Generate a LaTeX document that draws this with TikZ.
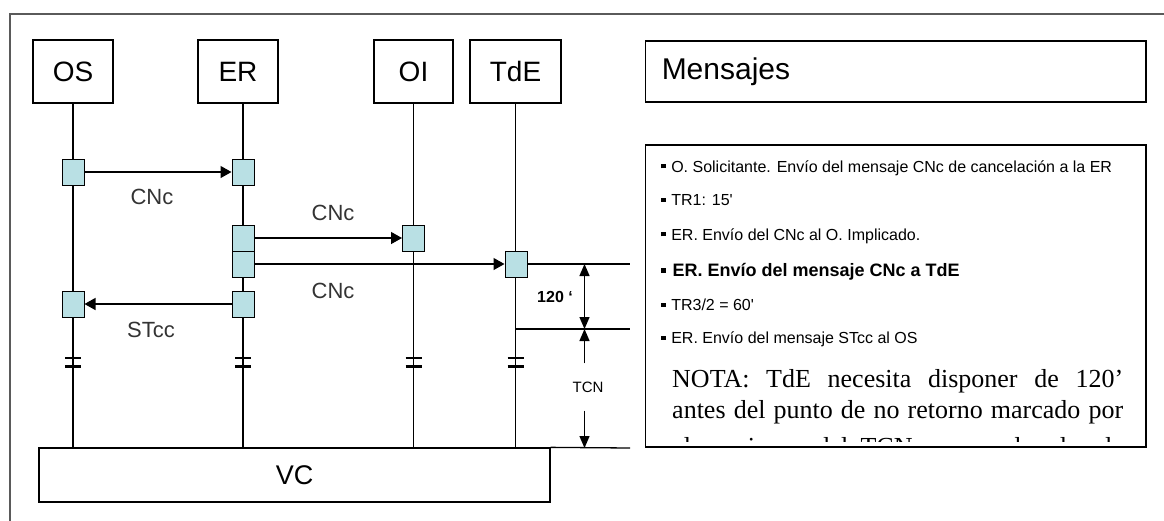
\documentclass[tikz,border=0pt]{standalone}
\usepackage{fontspec}
\setmainfont{Liberation Sans}
\newfontfamily\timesf{Liberation Serif}
\usetikzlibrary{arrows.meta}
\definecolor{sqfill}{RGB}{185,224,228}
\definecolor{frame}{RGB}{90,90,90}
\newcommand{\bul}{\rule[0.22em]{0.28em}{0.28em}\hspace{0.35em}}
\tikzset{dtip/.tip={Triangle[length=12pt,width=10pt]}}
\begin{document}
\begin{tikzpicture}[x=1pt,y=-1pt,
  box/.style={draw=black, line width=1.3pt, inner sep=0pt, font=\fontsize{28}{32}\selectfont},
  sqr/.style={draw=black, fill=sqfill, line width=1pt, minimum width=22pt, minimum height=26pt, inner sep=0pt},
  life/.style={line width=1.3pt},
  msg/.style={line width=1.3pt, -{Triangle[length=11pt,width=12pt]}},
  brk/.style={line width=2.4pt},
  dim/.style={line width=1.3pt},
  lab/.style={font=\fontsize{22}{26}\selectfont, text=black!80, inner sep=0pt},
  item/.style={anchor=base west, inner sep=0pt, font=\fontsize{16}{19}\selectfont},
  nota/.style={anchor=base west, inner sep=0pt, font=\timesf\fontsize{26}{31}\selectfont}
]
\useasboundingbox (0,0) rectangle (1164,520);
\begin{scope}
\clip (0,0) rectangle (1164,520);
\draw[frame, line width=1.4pt] (1170,14) -- (10,14) -- (10,530);
\end{scope}

% participant boxes
\node[box, minimum width=80pt, minimum height=63pt] (os) at (73,71.5) {OS};
\node[box, minimum width=80pt, minimum height=63pt] (er) at (238,71.5) {ER};
\node[box, minimum width=79pt, minimum height=63pt] (oi) at (413.5,71.5) {OI};
\node[box, minimum width=91pt, minimum height=63pt] (tde) at (515.5,71.5) {TdE};
\node[box, minimum width=500.5pt, minimum height=61pt, text width=468pt, align=left, font=\fontsize{30}{34}\selectfont] (men) at (895.75,71.5) {Mensajes};
\node[box, minimum width=511pt, minimum height=54pt, font=\fontsize{27}{30}\selectfont] (vc) at (294.5,475) {VC};
\node[box, minimum width=500.5pt, minimum height=302pt] (mbox) at (895.75,296) {};

% lifelines
\draw[life] (os.south) -- (os.south |- vc.north);
\draw[life] ([xshift=5pt]er.south) -- ([xshift=5pt]er.south |- vc.north);
\draw[life] (oi.south) -- (oi.south |- vc.north);
\draw[life] (tde.south) -- (tde.south |- vc.north);

% break marks
\foreach \n/\dx in {os/0,er/5,oi/0,tde/0}{
  \draw[brk] ([xshift=\dx pt]\n.south |- 0,358) ++(-8,0) -- ++(16,0);
  \draw[brk] ([xshift=\dx pt]\n.south |- 0,366.5) ++(-8,0) -- ++(16,0);
}

% activation squares
\node[sqr] (os1) at (73,172) {};
\node[sqr] (er1) at (243,172) {};
\node[sqr] (er2) at (243,238) {};
\node[sqr] (er3) at (243,264) {};
\node[sqr] (oi1) at (413.5,238) {};
\node[sqr] (tde1) at (516,264) {};
\node[sqr] (os2) at (73,304) {};
\node[sqr] (er4) at (243,304) {};

% messages
\draw[msg] (os1.east) -- (er1.west);
\draw[msg] (er2.east) -- (oi1.west);
\draw[msg] (er3.east) -- (tde1.west);
\draw[msg] (er4.west) -- (os2.east);

\node[lab] (l1) at (152,197) {CNc};
\node[lab] (l2) at (333,213) {CNc};
\node[lab] (l3) at (333,291) {CNc};
\node[lab] (l4) at (151,330) {STcc};

% dimension
\coordinate (r1) at (630,264);
\coordinate (r2) at (630,329);
\coordinate (r3) at (630,448);
\coordinate (m1) at (584.5,264);
\coordinate (m2) at (584.5,329);
\coordinate (m3) at (584.5,448);
\draw[dim] (tde1.east) -- (r1);
\draw[dim] (tde1.center |- r2) -- (r2);
\draw[dim] (vc.north east) -- (r3);
\draw[dim, dtip-dtip] (m1) -- (m2);
\node[font=\fontsize{15}{18}\selectfont, minimum height=47pt, inner sep=0pt] (tcn) at (588,387) {TCN};
\draw[dim, -dtip] (m2 |- tcn.north) -- (m2);
\draw[dim, -dtip] (m3 |- tcn.south) -- (m3);
\node[font=\bfseries\fontsize{16}{19}\selectfont, inner sep=0pt] (t120) at (555,297) {120 ‘};

% message list
\node[item] (i1) at (661,172) {\bul O. Solicitante. Envío del mensaje CNc de cancelación a la ER};
\node[item] (i2) at (661,205.5) {\bul TR1: 15\textquotesingle};
\node[item] (i3) at (661,240) {\bul ER. Envío del CNc al O. Implicado.};
\node[item, font=\bfseries\fontsize{18}{21}\selectfont] (i4) at (661,276.5) {\bul ER. Envío del mensaje CNc a TdE};
\node[item] (i5) at (661,310.5) {\bul TR3/2 = 60\textquotesingle};
\node[item] (i6) at (661,343.5) {\bul ER. Envío del mensaje STcc al OS};

\begin{scope}
\clip (647,350) rectangle (1145,441);
\node[nota] (n1) at (672,387) {\makebox[451pt][s]{NOTA: TdE necesita disponer de 120’}};
\node[nota] (n2) at (672,418) {\makebox[451pt][s]{antes del punto de no retorno marcado por}};
\node[nota] (n3) at (672,455) {\makebox[451pt][s]{el comienzo del TCN para poder dar de}};
\end{scope}
\end{tikzpicture}
\end{document}
